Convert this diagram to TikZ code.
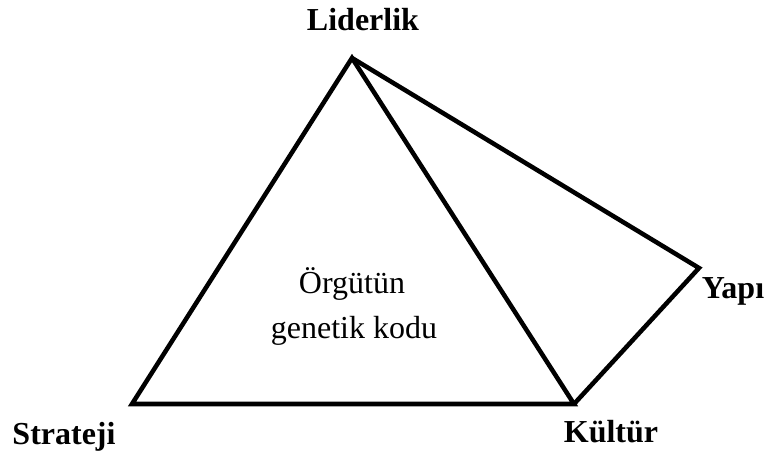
\documentclass[tikz,border=0pt]{standalone}
\usepackage{fontspec}
\setmainfont{Liberation Serif}
\usepackage{tikz}

\begin{document}
\begin{tikzpicture}[x=0.75pt,y=-0.75pt]
        \useasboundingbox (0,0) rectangle (769,451);
        \tikzset{corner/.style={font=\fontsize{24}{27}\selectfont\bfseries,anchor=base},
                 inner/.style={font=\fontsize{24}{27}\selectfont,anchor=base}}
        \coordinate (lid) at (352,58);
        \coordinate (str) at (132,404);
        \coordinate (kul) at (574,404);
        \coordinate (yap) at (699,268);
        \draw[line width=3.4pt,line join=miter] (str) -- (lid) -- (kul) -- cycle;
        \draw[line width=3.4pt,line join=miter] (lid) -- (yap) -- (kul); % yapi kenari
        \node[corner] (tlid) at (363,30) {Liderlik};
        \node[corner] (tstr) at (64,444) {Strateji};
        \node[corner] (tkul) at (611,442) {Kültür};
        \node[corner] (tyap) at (733,298) {Yapı};
        \node[inner] (kod1) at (352,293) {Örgütün};
        \node[inner] (kod2) at (354,338) {genetik kodu};
    \end{tikzpicture}
\end{document}
